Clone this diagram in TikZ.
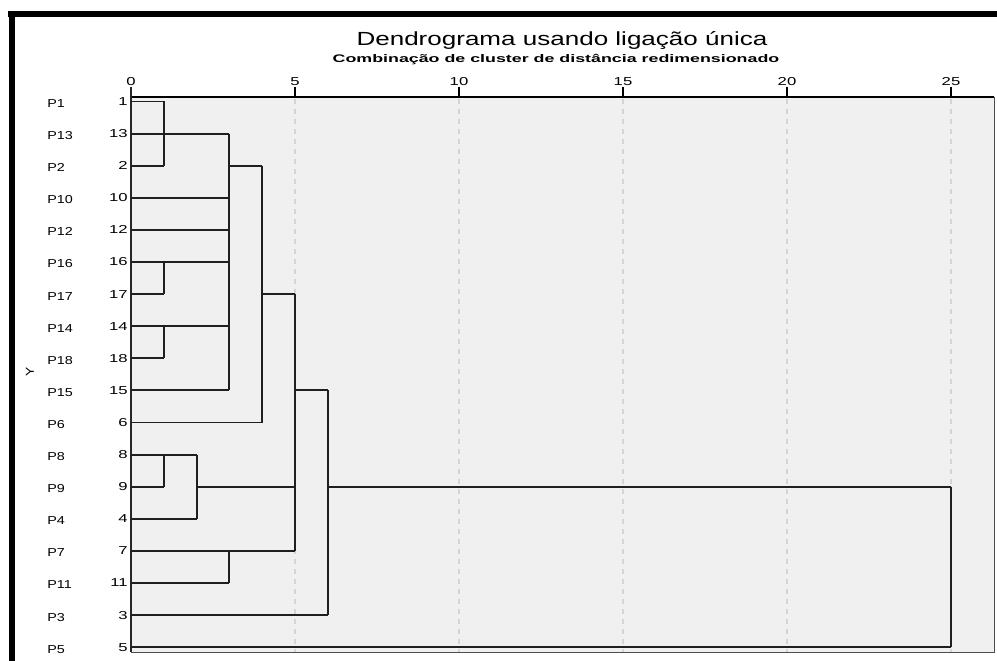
\documentclass[tikz,border=0pt]{standalone}
\usepackage{fontspec}
\setmainfont{Liberation Sans}
\begin{document}
\begin{tikzpicture}[x=1pt,y=-1pt,
  dline/.style={draw=black!88,line width=1.9pt},
  grid/.style={draw=black!17,line width=1.4pt,dash pattern=on 5pt off 5pt},
  plab/.style={anchor=west,inner sep=0pt,xscale=1.25,font=\fontsize{11.5}{12}\selectfont},
  nlab/.style={anchor=east,inner sep=0pt,xscale=1.45,font=\fontsize{11.5}{12}\selectfont},
  tlab/.style={anchor=south,inner sep=0pt,xscale=1.45,font=\fontsize{11.5}{12}\selectfont}]
\newcommand{\xd}[1]{(131+32.8*(#1))}
\newcommand{\yr}[1]{(101.5+32.1*(#1))}
\useasboundingbox (0,0) rectangle (997,661);
% outer frame
\fill[black] (8,11) rectangle (997,17);
\fill[black] (9,11) rectangle (15,661);
% plot area
\fill[black!6] (131,97) rectangle (994,652);
\draw[black!70,line width=1pt] (994,97) -- (994,652) -- (131,652);
% grid
\foreach \d in {5,10,15,20,25} \draw[grid] ({\xd{\d}},99) -- ({\xd{\d}},652);
% axis
\draw[black,line width=1.2pt] (131,97) -- (994,97);
\foreach \d in {0,5,10,15,20,25} {
  \draw[black,line width=1.6pt] ({\xd{\d}},87) -- ({\xd{\d}},97);
  \node[tlab] (t\d) at ({\xd{\d}},85.5) {\d};
}
\draw[black!85,line width=2.2pt] (131,87) -- (131,652);
% titles
\node[anchor=base,inner sep=0pt,xscale=1.37,font=\fontsize{19}{20}\selectfont] (title) at (562,45.7) {Dendrograma usando ligação única};
\node[anchor=base,inner sep=0pt,xscale=1.62,font=\bfseries\fontsize{11}{11}\selectfont] (sub) at (556,62.5) {Combinação de cluster de distância redimensionado};
\node[inner sep=0pt,rotate=90,xscale=1.2,font=\fontsize{11.5}{12}\selectfont] (ylab) at (30,372) {Y};
% leaves: row, number
\foreach \r/\n in {0/1,1/13,2/2,3/10,4/12,5/16,6/17,7/14,8/18,9/15,10/6,11/8,12/9,13/4,14/7,15/11,16/3,17/5} {
  \node[plab] (p\n) at (47,{\yr{\r}+2}) {P\n};
  \node[nlab] (n\n) at (128,{\yr{\r}}) {\n};
  \coordinate (L\n) at (131,{\yr{\r}});
}
% merge coordinates: top, bottom, output
\coordinate (m1t) at ({\xd{1}},{\yr{0}});  \coordinate (m1b) at ({\xd{1}},{\yr{2}});  \coordinate (m1o) at ({\xd{1}},{\yr{1}});
\coordinate (m2t) at ({\xd{1}},{\yr{5}});  \coordinate (m2b) at ({\xd{1}},{\yr{6}});  \coordinate (m2o) at ({\xd{1}},{\yr{5}});
\coordinate (m3t) at ({\xd{1}},{\yr{7}});  \coordinate (m3b) at ({\xd{1}},{\yr{8}});  \coordinate (m3o) at ({\xd{1}},{\yr{7}});
\coordinate (m4t) at ({\xd{3}},{\yr{1}});  \coordinate (m4b) at ({\xd{3}},{\yr{9}});  \coordinate (m4o) at ({\xd{3}},{\yr{2}});
\coordinate (m5t) at ({\xd{4}},{\yr{2}});  \coordinate (m5b) at ({\xd{4}},{\yr{10}}); \coordinate (m5o) at ({\xd{4}},{\yr{6}});
\coordinate (m6t) at ({\xd{1}},{\yr{11}}); \coordinate (m6b) at ({\xd{1}},{\yr{12}}); \coordinate (m6o) at ({\xd{1}},{\yr{11}});
\coordinate (m7t) at ({\xd{2}},{\yr{11}}); \coordinate (m7b) at ({\xd{2}},{\yr{13}}); \coordinate (m7o) at ({\xd{2}},{\yr{12}});
\coordinate (m8t) at ({\xd{3}},{\yr{14}}); \coordinate (m8b) at ({\xd{3}},{\yr{15}}); \coordinate (m8o) at ({\xd{3}},{\yr{14}});
\coordinate (m9t) at ({\xd{5}},{\yr{6}});  \coordinate (m9b) at ({\xd{5}},{\yr{14}}); \coordinate (m9o) at ({\xd{5}},{\yr{9}});
\coordinate (m10t) at ({\xd{6}},{\yr{9}}); \coordinate (m10b) at ({\xd{6}},{\yr{16}}); \coordinate (m10o) at ({\xd{6}},{\yr{12}});
\coordinate (m11t) at ({\xd{25}},{\yr{12}}); \coordinate (m11b) at ({\xd{25}},{\yr{17}});
% vertical bars
\foreach \m in {1,...,11} \draw[dline] (m\m t) -- (m\m b);
% leaf lines
\draw[dline] (L1) -- (m1t);
\draw[dline] (L2) -- (m1b);
\draw[dline] (L13) -- (L13 -| m4t);
\draw[dline] (L10) -- (L10 -| m4t);
\draw[dline] (L12) -- (L12 -| m4t);
\draw[dline] (L16) -- (m2t);
\draw[dline] (L17) -- (m2b);
\draw[dline] (L14) -- (m3t);
\draw[dline] (L18) -- (m3b);
\draw[dline] (L15) -- (m4b);
\draw[dline] (L6) -- (m5b);
\draw[dline] (L8) -- (m6t);
\draw[dline] (L9) -- (m6b);
\draw[dline] (L4) -- (m7b);
\draw[dline] (L7) -- (m8t);
\draw[dline] (L11) -- (m8b);
\draw[dline] (L3) -- (m10b);
\draw[dline] (L5) -- (m11b);
% cluster links
\draw[dline] (m1o) -- (m1o -| m4t);
\draw[dline] (m2o) -- (m2o -| m4t);
\draw[dline] (m3o) -- (m3o -| m4t);
\draw[dline] (m4o) -- (m5t);
\draw[dline] (m5o) -- (m9t);
\draw[dline] (m6o) -- (m7t);
\draw[dline] (m7o) -- (m7o -| m9t);
\draw[dline] (m8o) -- (m9b);
\draw[dline] (m9o) -- (m10t);
\draw[dline] (m10o) -- (m11t);
\end{tikzpicture}
\end{document}
